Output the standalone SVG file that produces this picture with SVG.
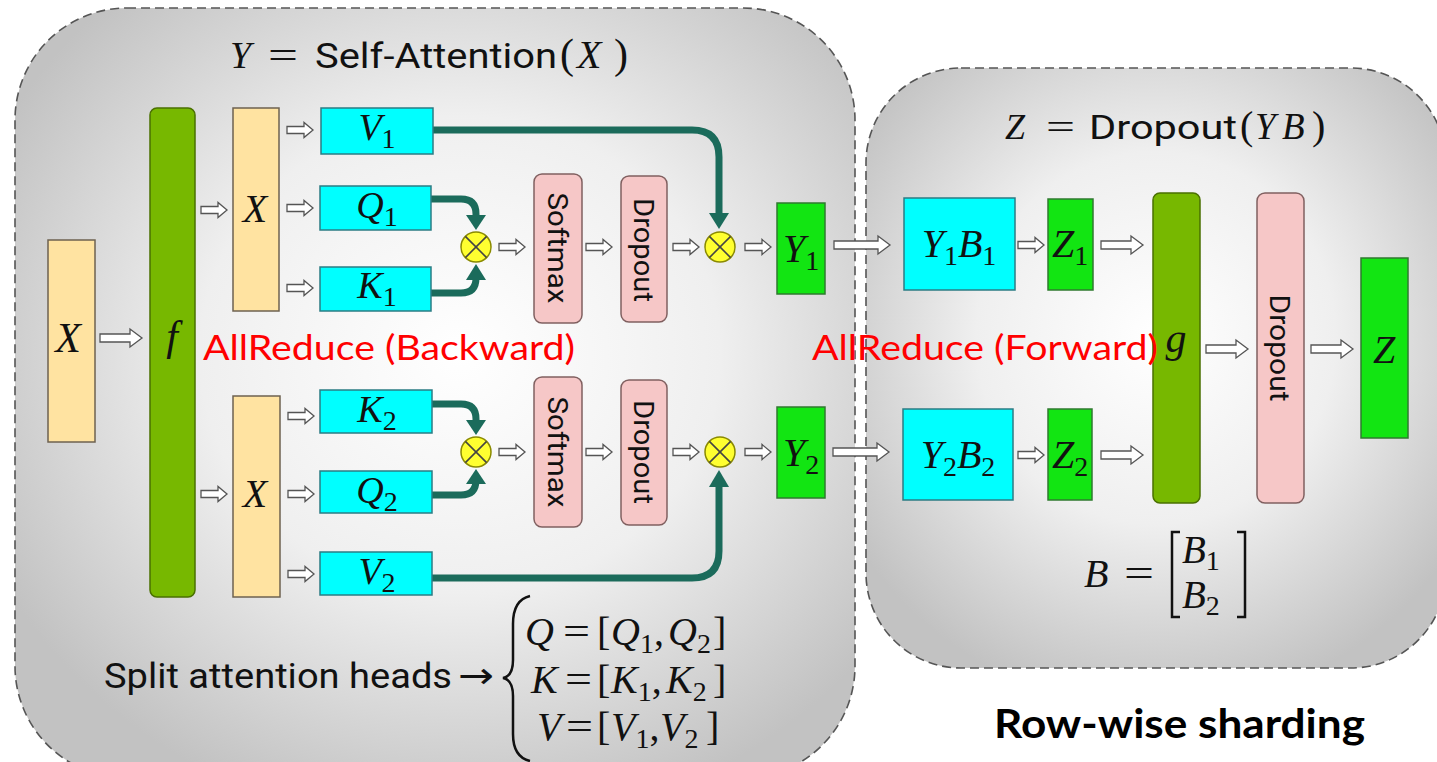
<svg xmlns="http://www.w3.org/2000/svg" width="1437" height="762" viewBox="0 0 1437 762">
<defs>
  <radialGradient id="bgL" cx="0.53" cy="0.45" r="0.62">
    <stop offset="0" stop-color="#ffffff"/>
    <stop offset="0.5" stop-color="#efefef"/>
    <stop offset="1" stop-color="#c2c2c2"/>
  </radialGradient>
  <radialGradient id="bgR" cx="0.5" cy="0.45" r="0.62">
    <stop offset="0" stop-color="#ffffff"/>
    <stop offset="0.5" stop-color="#efefef"/>
    <stop offset="1" stop-color="#c2c2c2"/>
  </radialGradient>
  <path id="ha" class="ha" d="M0,-3.5 H17 V-7.5 L26,0 L17,7.5 V3.5 H0 Z"/>
  <path id="hm" class="ha" d="M0,-4 H30 V-9 L42,0 L30,9 V4 H0 Z"/>
  <path id="hl" class="ha" d="M0,-4 H44 V-9 L56,0 L44,9 V4 H0 Z"/>
</defs>
<style>
  .panel{stroke:#555;stroke-width:1.6;stroke-dasharray:9 5}
  .cyan{fill:#00ffff;stroke:#2b7c84;stroke-width:1.5}
  .yel{fill:#ffe3a1;stroke:#6e6250;stroke-width:1.5}
  .olive{fill:#77b800;stroke:#4a7000;stroke-width:1.5}
  .grn{fill:#12e512;stroke:#2f7a2f;stroke-width:1.5}
  .pink{fill:#f6c7c7;stroke:#806060;stroke-width:1.5}
  .ha{fill:#ffffff;stroke:#555;stroke-width:1.3}
  .teal{fill:none;stroke:#1b6b5b;stroke-width:7;stroke-linejoin:round}
  .tealh{fill:#1b6b5b}
  .m{font-family:"Liberation Serif","DejaVu Serif",serif;font-style:italic;fill:#111}
  .u{font-style:normal}
  .s{font-style:normal;font-size:28px}
  .sans{font-family:Roboto,"Liberation Sans",sans-serif;fill:#111}
  .red{font-family:Lato,"Liberation Sans",sans-serif;fill:#ff0000;font-size:34px}
  .ot circle{fill:#ffff30;stroke:#8a8a00;stroke-width:1.5}
  .ot line{stroke:#444;stroke-width:1.6}
  .br{fill:none;stroke:#111;stroke-width:2.5}
</style>
<rect width="1437" height="762" fill="#ffffff"/>

<!-- panels -->
<rect id="panelLeft" class="panel" x="15" y="8" width="840" height="770" rx="112" fill="url(#bgL)"/>
<rect id="panelRight" class="panel" x="866" y="68" width="580" height="600" rx="95" fill="url(#bgR)"/>

<!-- titles -->
<g id="titleLeft">
  <text class="m" x="230" y="68" font-size="38">Y</text>
  <text class="m u" x="268" y="68" font-size="38" textLength="30" lengthAdjust="spacingAndGlyphs">=</text>
  <text class="sans" x="315" y="68" font-size="35" textLength="242" lengthAdjust="spacingAndGlyphs">Self-Attention</text>
  <text class="m" y="68" font-size="40"><tspan class="u" x="560" font-size="42">(</tspan><tspan x="577">X</tspan><tspan class="u" x="614" font-size="42">)</tspan></text>
</g>
<g id="titleRight">
  <text class="m" x="1005" y="139" font-size="36">Z</text>
  <text class="m u" x="1046" y="139" font-size="36" textLength="29" lengthAdjust="spacingAndGlyphs">=</text>
  <text class="sans" x="1089" y="139" font-size="34" textLength="148" lengthAdjust="spacingAndGlyphs">Dropout</text>
  <text class="m" y="139" font-size="37"><tspan class="u" x="1240" font-size="40">(</tspan><tspan x="1255">Y</tspan><tspan x="1282">B</tspan><tspan class="u" x="1312" font-size="40">)</tspan></text>
</g>

<!-- connectors -->
<g id="connectors">
  <use href="#hm" x="100" y="338"/>
  <use href="#ha" x="201" y="210"/>
  <use href="#ha" x="201" y="494"/>
  <use href="#ha" x="287" y="130"/>
  <use href="#ha" x="287" y="208"/>
  <use href="#ha" x="287" y="288"/>
  <use href="#ha" x="288" y="416"/>
  <use href="#ha" x="288" y="494"/>
  <use href="#ha" x="288" y="574"/>
  <use href="#ha" x="499" y="247"/>
  <use href="#ha" x="586" y="247"/>
  <use href="#ha" x="673" y="247"/>
  <use href="#ha" x="745" y="247"/>
  <use href="#ha" x="499" y="452"/>
  <use href="#ha" x="586" y="452"/>
  <use href="#ha" x="673" y="452"/>
  <use href="#ha" x="745" y="452"/>
  <use href="#hl" x="834" y="245"/>
  <use href="#hl" x="833" y="452"/>
  <use href="#ha" x="1018" y="245"/>
  <use href="#ha" x="1018" y="455"/>
  <use href="#hm" x="1101" y="245"/>
  <use href="#hm" x="1101" y="455"/>
  <use href="#hm" x="1206" y="349"/>
  <use href="#hm" x="1311" y="349"/>

  <path class="teal" d="M433,130 H692 Q719,130 719,157 V215"/>
  <polygon class="tealh" points="709,213 729,213 719,229"/>
  <path class="teal" d="M431,199 H461 Q476,199 476,214 V216"/>
  <polygon class="tealh" points="466,215 486,215 476,230"/>
  <path class="teal" d="M431,293 H461 Q476,293 476,278 V278"/>
  <polygon class="tealh" points="466,280 486,280 476,264"/>
  <path class="teal" d="M432,404 H461 Q476,404 476,419 V421"/>
  <polygon class="tealh" points="466,420 486,420 476,435"/>
  <path class="teal" d="M432,495 H461 Q476,495 476,480 V483"/>
  <polygon class="tealh" points="466,484 486,484 476,469"/>
  <path class="teal" d="M432,578 H692 Q719,578 719,551 V486"/>
  <polygon class="tealh" points="709,487 729,487 719,470"/>
</g>

<!-- left panel nodes -->
<g id="inX"><rect class="yel" x="48" y="240" width="47" height="202"/><text class="m" x="68" y="352" font-size="42" text-anchor="middle">X</text></g>
<g id="f"><rect class="olive" x="150" y="108" width="45" height="489" rx="7"/><text class="m" x="172" y="350" font-size="42" text-anchor="middle">f</text></g>
<g id="X1"><rect class="yel" x="233" y="108" width="46" height="203"/><text class="m" x="255" y="222" font-size="40" text-anchor="middle">X</text></g>
<g id="X2"><rect class="yel" x="233" y="396" width="47" height="201"/><text class="m" x="255" y="507" font-size="40" text-anchor="middle">X</text></g>
<g id="V1"><rect class="cyan" x="321" y="108" width="112" height="46"/><text class="m" x="377" y="140" font-size="38" text-anchor="middle">V<tspan class="s" dy="8">1</tspan></text></g>
<g id="Q1"><rect class="cyan" x="320" y="186" width="111" height="44"/><text class="m" x="377" y="218" font-size="38" text-anchor="middle">Q<tspan class="s" dy="8">1</tspan></text></g>
<g id="K1"><rect class="cyan" x="320" y="267" width="111" height="44"/><text class="m" x="377" y="298" font-size="38" text-anchor="middle">K<tspan class="s" dy="8">1</tspan></text></g>
<g id="K2"><rect class="cyan" x="320" y="390" width="112" height="43"/><text class="m" x="377" y="422" font-size="38" text-anchor="middle">K<tspan class="s" dy="8">2</tspan></text></g>
<g id="Q2"><rect class="cyan" x="320" y="471" width="112" height="42"/><text class="m" x="377" y="503" font-size="38" text-anchor="middle">Q<tspan class="s" dy="8">2</tspan></text></g>
<g id="V2"><rect class="cyan" x="320" y="552" width="112" height="43"/><text class="m" x="377" y="584" font-size="38" text-anchor="middle">V<tspan class="s" dy="8">2</tspan></text></g>

<g id="mul1" class="ot"><circle cx="476" cy="247" r="15"/><line x1="465.4" y1="236.4" x2="486.6" y2="257.6"/><line x1="486.6" y1="236.4" x2="465.4" y2="257.6"/></g>
<g id="mul2" class="ot"><circle cx="720" cy="247" r="15"/><line x1="709.4" y1="236.4" x2="730.6" y2="257.6"/><line x1="730.6" y1="236.4" x2="709.4" y2="257.6"/></g>
<g id="mul3" class="ot"><circle cx="476" cy="452" r="15"/><line x1="465.4" y1="441.4" x2="486.6" y2="462.6"/><line x1="486.6" y1="441.4" x2="465.4" y2="462.6"/></g>
<g id="mul4" class="ot"><circle cx="720" cy="452" r="15"/><line x1="709.4" y1="441.4" x2="730.6" y2="462.6"/><line x1="730.6" y1="441.4" x2="709.4" y2="462.6"/></g>

<g id="softmax1"><rect class="pink" x="534" y="174" width="48" height="149" rx="8"/><text class="sans" font-size="28" text-anchor="middle" transform="translate(558,248) rotate(90)" y="10" textLength="111" lengthAdjust="spacingAndGlyphs">Softmax</text></g>
<g id="dropout1"><rect class="pink" x="621" y="176" width="46" height="146" rx="8"/><text class="sans" font-size="28" text-anchor="middle" transform="translate(644,250) rotate(90)" y="10" textLength="104" lengthAdjust="spacingAndGlyphs">Dropout</text></g>
<g id="softmax2"><rect class="pink" x="534" y="377" width="48" height="150" rx="8"/><text class="sans" font-size="28" text-anchor="middle" transform="translate(558,452) rotate(90)" y="10" textLength="111" lengthAdjust="spacingAndGlyphs">Softmax</text></g>
<g id="dropout2"><rect class="pink" x="621" y="380" width="46" height="145" rx="8"/><text class="sans" font-size="28" text-anchor="middle" transform="translate(644,452) rotate(90)" y="10" textLength="104" lengthAdjust="spacingAndGlyphs">Dropout</text></g>

<g id="Y1"><rect class="grn" x="777" y="203" width="48" height="91"/><text class="m" x="801" y="262" font-size="40" text-anchor="middle">Y<tspan class="s" dy="8">1</tspan></text></g>
<g id="Y2"><rect class="grn" x="777" y="407" width="48" height="91"/><text class="m" x="801" y="466" font-size="40" text-anchor="middle">Y<tspan class="s" dy="8">2</tspan></text></g>

<!-- right panel nodes -->
<g id="Y1B1"><rect class="cyan" x="904" y="198" width="111" height="92"/><text class="m" x="959" y="257" font-size="40" text-anchor="middle">Y<tspan class="s" dy="8">1</tspan><tspan dy="-8">B</tspan><tspan class="s" dy="8">1</tspan></text></g>
<g id="Y2B2"><rect class="cyan" x="903" y="409" width="110" height="91"/><text class="m" x="958" y="468" font-size="40" text-anchor="middle">Y<tspan class="s" dy="8">2</tspan><tspan dy="-8">B</tspan><tspan class="s" dy="8">2</tspan></text></g>
<g id="Z1"><rect class="grn" x="1048" y="199" width="45" height="91"/><text class="m" x="1070" y="257" font-size="40" text-anchor="middle">Z<tspan class="s" dy="8">1</tspan></text></g>
<g id="Z2"><rect class="grn" x="1048" y="409" width="44" height="91"/><text class="m" x="1070" y="468" font-size="40" text-anchor="middle">Z<tspan class="s" dy="8">2</tspan></text></g>
<g id="g"><rect class="olive" x="1153" y="193" width="47" height="310" rx="7"/><text class="m" x="1176" y="352" font-size="42" text-anchor="middle">g</text></g>
<g id="dropoutR"><rect class="pink" x="1257" y="193" width="47" height="310" rx="8"/><text class="sans" font-size="28" text-anchor="middle" transform="translate(1280,348) rotate(90)" y="10" textLength="107" lengthAdjust="spacingAndGlyphs">Dropout</text></g>
<g id="Z"><rect class="grn" x="1361" y="258" width="47" height="180"/><text class="m" x="1384" y="363" font-size="40" text-anchor="middle">Z</text></g>

<!-- labels -->
<g id="labels">
  <text class="red" x="203" y="360" textLength="372" lengthAdjust="spacingAndGlyphs">AllReduce (Backward)</text>
  <text class="red" x="812" y="360" textLength="346" lengthAdjust="spacingAndGlyphs">AllReduce (Forward)</text>

  <text class="sans" x="104" y="688" font-size="35" textLength="348" lengthAdjust="spacingAndGlyphs">Split attention heads</text>
  <text x="458" y="688" font-size="36" font-family="'DejaVu Sans',sans-serif" fill="#111" textLength="36" lengthAdjust="spacingAndGlyphs">→</text>
  <path class="br" d="M530,596 Q513,600 513,624 V660 Q513,676 503,678 Q513,680 513,696 V734 Q513,757 530,761"/>

  <text class="m" font-size="40" y="645"><tspan x="525">Q</tspan><tspan x="611">Q</tspan><tspan class="s" dy="8">1</tspan><tspan class="u" dy="-8">,</tspan><tspan x="668">Q</tspan><tspan class="s" dy="8">2</tspan><tspan class="u" dy="-8" x="713">]</tspan><tspan class="u" x="597">[</tspan></text>
  <text class="m u" font-size="40" x="563" y="645" textLength="27" lengthAdjust="spacingAndGlyphs">=</text>
  <text class="m" font-size="40" y="693"><tspan x="531">K</tspan><tspan x="611">K</tspan><tspan class="s" dy="8">1</tspan><tspan class="u" dy="-8">,</tspan><tspan x="666">K</tspan><tspan class="s" dy="8">2</tspan><tspan class="u" dy="-8" x="713">]</tspan><tspan class="u" x="597">[</tspan></text>
  <text class="m u" font-size="40" x="565" y="693" textLength="27" lengthAdjust="spacingAndGlyphs">=</text>
  <text class="m" font-size="40" y="740"><tspan x="537">V</tspan><tspan x="611">V</tspan><tspan class="s" dy="8">1</tspan><tspan class="u" dy="-8">,</tspan><tspan x="660">V</tspan><tspan class="s" dy="8">2</tspan><tspan class="u" dy="-8" x="706">]</tspan><tspan class="u" x="597">[</tspan></text>
  <text class="m u" font-size="40" x="566" y="740" textLength="27" lengthAdjust="spacingAndGlyphs">=</text>

  <text class="m" font-size="40" x="1084" y="587">B</text>
  <text class="m u" font-size="40" x="1124" y="587" textLength="30" lengthAdjust="spacingAndGlyphs">=</text>
  <path class="br" d="M1180,532 H1172 V617 H1180"/>
  <path class="br" d="M1237,532 H1245 V617 H1237"/>
  <text class="m" font-size="39" x="1182" y="563">B<tspan class="s" font-size="28" dy="7">1</tspan></text>
  <text class="m" font-size="39" x="1182" y="608">B<tspan class="s" font-size="28" dy="7">2</tspan></text>

  <text x="994" y="738" font-family="Lato,'Liberation Sans',sans-serif" font-weight="700" font-size="40" fill="#000" textLength="371" lengthAdjust="spacingAndGlyphs">Row-wise sharding</text>
</g>
</svg>
